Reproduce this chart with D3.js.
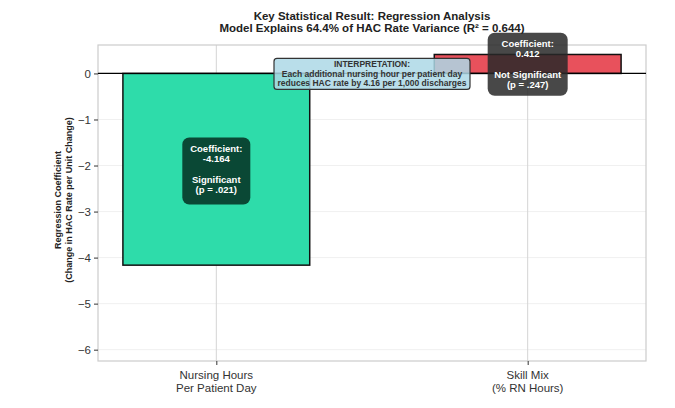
<!DOCTYPE html>
<html><head><meta charset="utf-8">
<script src="https://cdn.jsdelivr.net/npm/d3@7"></script>
<style>body{margin:0;background:#fff;}svg{display:block;font-family:"Liberation Sans",Arial,sans-serif;}</style>
</head><body>
<script>
const categories = ["Nursing Hours\nPer Patient Day", "Skill Mix\n(% RN Hours)"];
const coefficients = [-4.164, 0.412];
const pValues = [".021", ".247"];
const significance = ["Significant", "Not Significant"];
const barColors = ["#2edcaa", "#e8515c"];
const boxColors = ["rgba(8,60,44,0.93)", "rgba(40,40,40,0.85)"];
const yTicks = [0, -1, -2, -3, -4, -5, -6];
const titleLines = ["Key Statistical Result: Regression Analysis", "Model Explains 64.4% of HAC Rate Variance (R² = 0.644)"];
const interpretation = ["INTERPRETATION:", "Each additional nursing hour per patient day", "reduces HAC rate by 4.16 per 1,000 discharges"];

const W = 675, H = 408;
const svg = d3.select("body").append("svg").attr("width", W).attr("height", H);
const L = 98, R = 646, T = 45, B = 361;
const x = d3.scaleLinear().domain([-0.38, 1.38]).range([L, R]);
const y = d3.scaleLinear().domain([-6.246, 0.618]).range([B, T]);
const barW = 0.6;

// grid
svg.append("g").selectAll("line").data(yTicks).join("line")
  .attr("x1", L).attr("x2", R).attr("y1", d => y(d)).attr("y2", d => y(d))
  .attr("stroke", "#f0f0f0").attr("stroke-width", 1);
svg.append("g").selectAll("line").data(categories).join("line")
  .attr("x1", (d, i) => x(i)).attr("x2", (d, i) => x(i)).attr("y1", T).attr("y2", B)
  .attr("stroke", "#d4d4d4").attr("stroke-width", 1);

// frame
svg.append("rect").attr("x", L).attr("y", T).attr("width", R - L).attr("height", B - T)
  .attr("fill", "none").attr("stroke", "#cccccc").attr("stroke-width", 1.2);

// bars
svg.append("g").selectAll("rect").data(coefficients).join("rect")
  .attr("x", (d, i) => x(i - barW / 2))
  .attr("width", (d, i) => x(i + barW / 2) - x(i - barW / 2))
  .attr("y", d => y(Math.max(0, d)))
  .attr("height", d => Math.abs(y(d) - y(0)))
  .attr("fill", (d, i) => barColors[i])
  .attr("stroke", "#111").attr("stroke-width", 1.5);

// zero line
svg.append("line").attr("x1", L).attr("x2", R).attr("y1", y(0)).attr("y2", y(0))
  .attr("stroke", "#000").attr("stroke-width", 1.3);

// y axis
const yAxis = d3.axisLeft(y).tickValues(yTicks).tickSize(4).tickPadding(3)
  .tickFormat(d => d === 0 ? "0" : "\u2212" + Math.abs(d));
const gy = svg.append("g").attr("transform", `translate(${L},0)`).call(yAxis);
gy.select(".domain").remove();
gy.selectAll(".tick line").attr("stroke", "#333").attr("stroke-width", 1);
gy.selectAll(".tick text").attr("font-size", 11.5).attr("fill", "#333")
  .attr("font-family", "Liberation Sans, Arial, sans-serif");

// x axis
const xAxis = d3.axisBottom(x).tickValues([0, 1]).tickSize(4).tickFormat("");
const gx = svg.append("g").attr("transform", `translate(0,${B})`).call(xAxis);
gx.select(".domain").remove();
gx.selectAll(".tick line").attr("stroke", "#333");
categories.forEach((c, i) => {
  const t = svg.append("text").attr("x", x(i)).attr("y", 379).attr("text-anchor", "middle")
    .attr("font-size", 11.5).attr("fill", "#333");
  c.split("\n").forEach((s, k) => t.append("tspan").attr("x", x(i)).attr("dy", k ? 13 : 0).text(s));
});

// y label
const yl = svg.append("text").attr("transform", `translate(66,${(T + B) / 2 - 3}) rotate(-90)`)
  .attr("text-anchor", "middle").attr("font-size", 9).attr("font-weight", "bold").attr("fill", "#222");
yl.append("tspan").attr("x", 0).attr("dy", -5).text("Regression Coefficient");
yl.append("tspan").attr("x", 0).attr("dy", 10.5).text("(Change in HAC Rate per Unit Change)");

// title
titleLines.forEach((s, k) => svg.append("text").attr("x", 372).attr("y", 19.5 + k * 12)
  .attr("text-anchor", "middle").attr("font-size", 11.5).attr("font-weight", "bold").attr("fill", "#222").text(s));

// coefficient annotation boxes
const boxCenters = [-2.12, 0.2];
const boxW = [68, 80];
const boxH = [67, 63];
coefficients.forEach((d, i) => {
  const cx = x(i), cy = y(boxCenters[i]);
  const w = boxW[i], h = boxH[i];
  svg.append("rect").attr("x", cx - w / 2).attr("y", cy - h / 2).attr("width", w).attr("height", h)
    .attr("rx", 7).attr("fill", boxColors[i]);
  const lines = ["Coefficient:", d.toFixed(3), "", significance[i], `(p = ${pValues[i]})`];
  const off = i === 0 ? -2 : 0;
  lines.forEach((s, k) => {
    if (!s) return;
    svg.append("text").attr("x", cx).attr("y", cy + off + (k - 2) * 10.2 + 3.3).attr("text-anchor", "middle")
      .attr("font-size", 9.5).attr("font-weight", "bold").attr("fill", "#fff").text(s);
  });
});

// interpretation box
const ix = x(0.5), iy = y(-0.01);
svg.append("rect").attr("x", ix - 98).attr("y", iy - 15.5).attr("width", 196).attr("height", 31)
  .attr("rx", 3).attr("fill", "rgba(173,216,230,0.85)").attr("stroke", "#333").attr("stroke-width", 1.2);
interpretation.forEach((s, k) => svg.append("text").attr("x", ix).attr("y", iy - 6.5 + k * 9.2)
  .attr("text-anchor", "middle").attr("font-size", 8.5).attr("font-weight", "bold").attr("fill", "#333").text(s));
</script>
</body></html>
